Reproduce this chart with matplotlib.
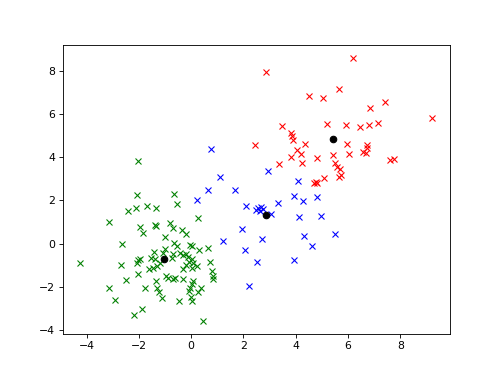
import matplotlib
matplotlib.use("Agg")
import matplotlib.pyplot as plt

# cluster 1 (green)
green_x = [-2.03, -2.09, -0.65, -2.41, -2.13, -1.69, -1.34, -0.56, -3.13, 0.27,
           -1.97, -1.86, -1.40, -1.35, -0.80, -0.71, -0.36, -0.19, -1.01, -2.64,
           -0.66, -0.56, -0.05, 0.03, 0.31, 0.65, -1.43, -1.01, -1.07, -1.39,
           -1.52, -0.69, -0.75, -0.41, -0.31, -0.18, -0.11, 0.02, -0.07, 0.08,
           0.21, 0.02, -0.31, -0.20, 0.72, -1.46, -1.20, -0.97, -0.88, -0.69,
           -0.62, -0.31, 0.08, 0.02, 0.37, 0.78, 0.82, 0.84, -1.33, -1.30,
           -0.05, -4.25, -2.69, -2.03, -1.97, -2.07, -1.62, -1.29, -2.02, -2.48,
           -3.15, -2.91, -1.77, -1.25, -1.12, -0.46, -0.08, -0.02, 0.02, 0.25,
           -1.87, -2.17, 0.46]
green_y = [3.83, 2.25, 2.29, 1.53, 1.65, 1.76, 1.64, 1.84, 1.00, 1.20,
           0.77, 0.50, 0.85, 0.80, 0.96, 0.74, 0.63, 0.46, 0.33, -0.03,
           0.02, -0.11, -0.06, -0.11, -0.29, -0.21, -0.37, -0.23, -0.42, -0.69,
           -0.65, -0.49, -0.65, -0.45, -0.54, -0.49, -0.60, -0.72, -0.85, -0.91,
           -1.03, -1.11, -1.19, -1.00, -0.85, -1.11, -0.88, -1.50, -1.57, -1.62,
           -1.57, -1.62, -1.73, -1.88, -2.04, -1.26, -1.50, -1.62, -1.73, -2.04,
           -2.04, -0.91, -0.99, -0.75, -0.69, -0.91, -1.17, -1.03, -1.40, -1.69,
           -2.04, -2.61, -2.04, -2.22, -2.53, -2.65, -2.19, -2.45, -2.64, -2.22,
           -3.02, -3.31, -3.56]

# cluster 2 (blue)
blue_x = [0.77, 1.11, 0.65, 1.67, 0.23, 4.10, 2.93, 3.93, 4.29, 4.83,
          2.10, 3.33, 2.48, 2.57, 2.66, 2.74, 2.63, 3.04, 4.14, 4.96,
          1.93, 1.20, 2.72, 4.33, 5.51, 4.64, 2.07, 2.51, 3.95, 2.20]
blue_y = [4.38, 3.06, 2.49, 2.49, 2.02, 2.92, 3.37, 2.21, 1.98, 2.15,
          1.75, 1.90, 1.56, 1.64, 1.71, 1.62, 1.53, 1.36, 1.22, 1.28,
          0.67, 0.12, 0.20, 0.36, 0.43, -0.11, -0.29, -0.83, -0.75, -1.96]

# cluster 3 (red)
red_x = [6.18, 2.85, 5.66, 4.52, 5.06, 6.85, 7.41, 9.23, 3.48, 5.20,
         5.92, 6.45, 6.80, 7.14, 3.81, 3.87, 3.91, 2.45, 4.37, 5.98,
         6.73, 6.72, 4.04, 4.19, 3.82, 4.80, 5.42, 6.04, 6.58, 6.69,
         4.24, 5.52, 3.36, 7.60, 7.78, 5.57, 5.69, 5.72, 5.66, 5.10,
         4.77, 4.70, 4.80]
red_y = [8.58, 7.96, 7.16, 6.85, 6.73, 6.27, 6.57, 5.80, 5.42, 5.53,
         5.50, 5.40, 5.51, 5.59, 5.14, 4.99, 4.80, 4.57, 4.60, 4.62,
         4.58, 4.42, 4.34, 4.15, 4.03, 3.95, 4.11, 4.14, 4.25, 4.21,
         3.72, 3.72, 3.69, 3.88, 3.91, 3.56, 3.46, 3.18, 3.10, 3.03,
         2.87, 2.80, 2.82]

# centroids
cent_x = [-1.05, 2.86, 5.42]
cent_y = [-0.69, 1.33, 4.83]

fig = plt.figure(figsize=(6.4, 4.8), dpi=78.125)
ax = fig.add_subplot(111)

ax.plot(green_x, green_y, 'gx')
ax.plot(blue_x, blue_y, 'bx')
ax.plot(red_x, red_y, 'rx')
ax.plot(cent_x, cent_y, 'ko')

plt.savefig("out.png")
